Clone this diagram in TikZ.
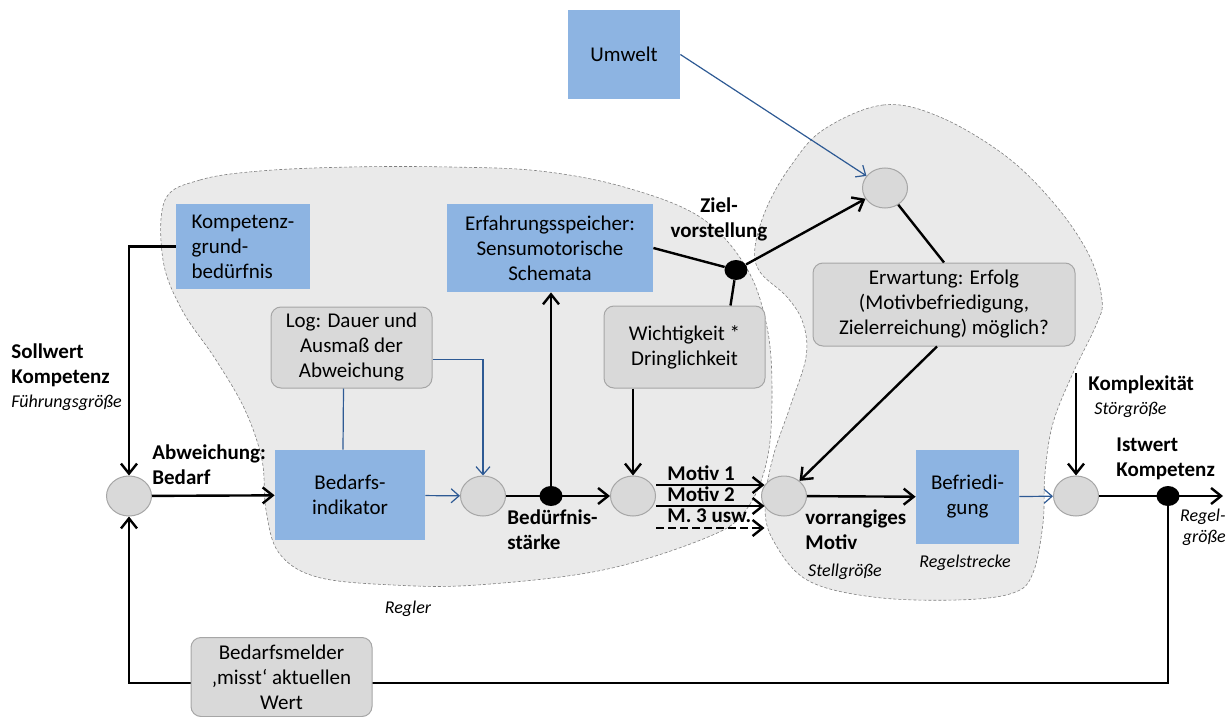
\documentclass[tikz,border=0pt]{standalone}
\usepackage{fontspec}
\setmainfont{Carlito}
\usetikzlibrary{arrows.meta,shapes.geometric}

\definecolor{boxblue}{HTML}{8DB4E2}
\definecolor{boxgrey}{HTML}{D9D9D9}
\definecolor{rimgrey}{HTML}{A6A6A6}
\definecolor{regiongrey}{HTML}{EAEAEA}
\definecolor{linkblue}{HTML}{2E5A94}

\begin{document}
\begin{tikzpicture}[x=0.5pt,y=-0.5pt,
        >={Straight Barb[length=5pt,width=8pt]},
        every node/.style={font=\fontsize{10.5}{12.5}\selectfont},
        box/.style={rectangle,fill=boxblue,inner sep=1pt},
        grey box/.style={rectangle,rounded corners=5pt,fill=boxgrey,
           draw=rimgrey,line width=0.5pt,align=center,inner sep=1pt},
        sum point/.style={ellipse,fill=boxgrey,draw=rimgrey,line width=0.5pt,
           minimum width=22.5pt,minimum height=20pt,inner sep=0pt},
        branch/.style={ellipse,fill=black,minimum width=11.5pt,
           minimum height=10pt,inner sep=0pt},
        region/.style={fill=regiongrey},
        region rim/.style={draw=gray,line width=0.3pt,dash pattern=on 1.5pt off 1pt},
        signal line/.style={line width=1.2pt},
        signal/.style={signal line,->},
        blue line/.style={linkblue,line width=0.6pt},
        blue signal/.style={blue line,-{Straight Barb[length=4pt,width=7pt]}},
        bold label/.style={font=\fontsize{10.5}{12.5}\selectfont\bfseries,
           align=left,inner sep=0pt},
        size label/.style={font=\fontsize{9}{10.5}\selectfont\itshape,inner sep=0pt},
    ]
    \useasboundingbox (0,0) rectangle (1231,717);

    % Regler und Regelstrecke als Flaechen
    \path[save path=\reglerblob] plot[smooth cycle,tension=0.6] coordinates {
        (165,200) (200,180) (260,171) (350,167) (450,167) (540,171)
        (624,187) (700,217) (746,267) (767,327) (772,393) (767,460)
        (746,510) (708,537) (603,570) (477,585) (393,585) (317,577)
        (279,553) (266,510) (262,460) (245,410) (216,360) (182,310)
        (163,260)};
    \path[save path=\streckeblob] plot[smooth cycle,tension=0.6] coordinates {
        (823,130) (883,105) (940,117) (1007,157) (1057,207) (1090,257)
        (1102,300) (1097,323) (1073,373) (1053,423) (1045,473) (1043,523)
        (1033,573) (1013,593) (957,600) (873,597) (807,580) (773,540)
        (765,505) (773,457) (790,407) (806,357) (803,323) (787,297)
        (760,272) (755,247) (767,207) (790,167)};
    \path[region,use path=\reglerblob];
    \path[region,use path=\streckeblob];
    \path[region rim,use path=\reglerblob];
    \path[region rim,use path=\streckeblob];

    % Bloecke
    \node[box,minimum width=56pt,minimum height=44.5pt] (umwelt) at (624,54.5) {Umwelt};
    \node[box,minimum width=67pt,minimum height=42.5pt,align=left] (grund) at (243,246.5)
        {Kompetenz-\\grund-\\bedürfnis};
    \node[box,minimum width=103pt,minimum height=44pt,align=center] (speicher) at (550,248)
        {Erfahrungsspeicher:\\Sensumotorische\\Schemata};
    \node[box,minimum width=75pt,minimum height=45pt,align=center] (indikator) at (350,495)
        {Bedarfs-\\indikator};
    \node[box,minimum width=51.5pt,minimum height=47pt,align=center] (befriedigung) at (967.5,497)
        {Befriedi-\\gung};

    \node[grey box,minimum width=80.5pt,minimum height=40.5pt] (log) at (351.5,347.5)
        {Log: Dauer und\\Ausmaß der\\Abweichung};
    \node[grey box,minimum width=80.5pt,minimum height=41pt] (gewicht) at (684.5,347)
        {Wichtigkeit *\\Dringlichkeit};
    \node[grey box,minimum width=131pt,minimum height=41.5pt] (erwartung) at (944,304.5)
        {Erwartung: Erfolg\\(Motivbefriedigung,\\Zielerreichung) möglich?};

    % Summationsstellen und Verzweigungen
    \node[sum point] (vergleich) at (129,496) {};
    \node[sum point] (staerke) at (483,496) {};
    \node[sum point] (motive) at (633,496) {};
    \node[sum point] (auswahl) at (784,496) {};
    \node[sum point] (stoerung) at (1076,496) {};
    \node[sum point] (umweltsum) at (885,188) {};
    \node[branch] (abzweig) at (551,496) {};
    \node[branch] (ziel) at (736,270) {};
    \node[branch] (messpunkt) at (1168,496) {};
    \coordinate (stoerquelle) at (1076,373);
    \coordinate (ausgang) at (1223,496);
    \coordinate (rueckecke) at (1168,683);

    % Signalwege
    \draw[signal] (grund.west) -| (vergleich.north);
    \draw[signal] (vergleich) -- (indikator);
    \draw[blue signal] (indikator) -- (staerke);
    \draw[blue line] ([xshift=-4pt]log.south) -- ([xshift=-3.5pt]indikator.north);
    \draw[blue signal] ([yshift=-6pt]log.east) -| (staerke.north);
    \draw[signal] (staerke) -- (motive);
    \draw[signal] (abzweig) -- (abzweig |- speicher.south);
    \draw[signal] (gewicht.south -| motive) -- (motive);
    \draw[signal line] (speicher.east) -- (ziel);
    \draw[signal line] ([xshift=23pt]gewicht.north) -- (ziel);
    \draw[signal] (ziel) -- (umweltsum);
    \draw[blue signal] (umwelt.east) -- (umweltsum);
    \draw[signal line] (umweltsum) -- (erwartung.north);
    \draw[signal] ([xshift=-3.5pt]erwartung.south) -- (auswahl);
    \draw[signal] ([yshift=5.5pt]motive.east) -- ([yshift=5.5pt,xshift=1.75pt]auswahl.west);
    \draw[signal] ([yshift=-5pt]motive.east) -- ([yshift=-5pt,xshift=1.75pt]auswahl.west);
    \draw[signal,dash pattern=on 4pt off 2pt] ([yshift=-16pt]motive.east)
        -- ([yshift=-16pt,xshift=1.75pt]auswahl.west);
    \draw[signal] (auswahl) -- (befriedigung);
    \draw[blue signal] (befriedigung) -- (stoerung);
    \draw[signal] (stoerung) -- (ausgang);
    \draw[signal] (stoerquelle) -- (stoerung);
    \draw[signal] (messpunkt) -- (rueckecke) -| (vergleich.south);

    \node[grey box,minimum width=90.5pt,minimum height=39.5pt] (melder) at (281.5,677)
        {Bedarfsmelder\\‚misst‘ aktuellen\\Wert};

    % Beschriftungen
    \node[bold label,anchor=base west] (motiv1) at (667,480) {Motiv 1};
    \node[bold label,anchor=base west] (motiv2) at (667,501) {Motiv 2};
    \node[bold label,anchor=base west] (motiv3) at (667,522) {M. 3 usw.};
    \node[bold label,anchor=west] (sollwert) at (11,365) {Sollwert\\Kompetenz};
    \node[size label,anchor=west] (fuehrung) at (11,403) {Führungsgröße};
    \node[bold label,anchor=west] (abweichung) at (152,465) {Abweichung:\\Bedarf};
    \node[bold label,anchor=west] (staerketext) at (507,530) {Bedürfnis-\\stärke};
    \node[bold label,align=center] (zieltext) at (719,219) {Ziel-\\vorstellung};
    \node[bold label,anchor=west] (vorrang) at (805,530) {vorrangiges\\Motiv};
    \node[size label] (stellgr) at (845,572) {Stellgröße};
    \node[size label] (strecke) at (965,563) {Regelstrecke};
    \node[size label] (regler) at (408,609) {Regler};
    \node[bold label,anchor=west] (komplex) at (1088,385) {Komplexität};
    \node[size label,anchor=west] (stoergr) at (1094,410) {Störgröße};
    \node[bold label,anchor=west] (istwert) at (1116,459) {Istwert\\Kompetenz};
    \node[size label,align=right,anchor=east] (regelgr) at (1226,527) {Regel-\\größe};
\end{tikzpicture}
\end{document}
